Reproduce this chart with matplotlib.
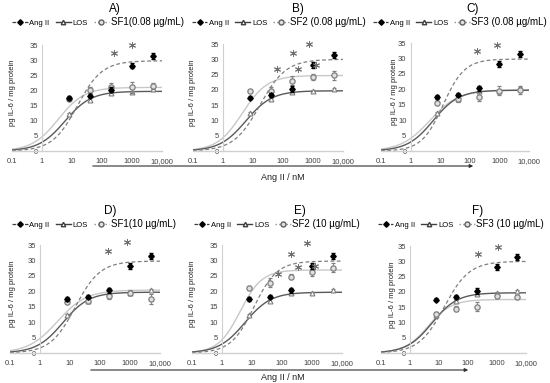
import numpy as np
import matplotlib
matplotlib.use('Agg')
import matplotlib.pyplot as plt
from matplotlib.lines import Line2D
from matplotlib.ticker import FixedLocator, FixedFormatter, NullLocator

plt.rcParams['font.family'] = ['Liberation Sans', 'DejaVu Sans']

# Ang II concentration (nM)
conc = [8, 40, 200, 1000, 5000]

ang_mean = [17.5, 18.3, 20.3, 28.2, 31.5]
ang_err = [0.5, 0.6, 0.9, 0.9, 1.0]
los_mean = [12.3, 17.0, 19.3, 19.6, 20.4]
los_err = [0.4, 0.5, 0.4, 0.3, 0.3]

titles = ['A)', 'B)', 'C)', 'D)', 'E)', 'F)']
sf_labels = ['SF1(0.08 µg/mL)', 'SF2 (0.08 µg/mL)', 'SF3 (0.08 µg/mL)',
             'SF1(10 µg/mL)', 'SF2 (10 µg/mL)', 'SF3 (10 µg/mL)']

sf1_low = [17.3, 20.0, 21.0, 21.0, 21.5]
sf1_low_err = [0.5, 1.0, 1.5, 1.8, 1.0]
sf2_low = [19.6, 19.5, 23.0, 24.3, 24.8]
sf2_low_err = [0.4, 1.5, 1.5, 1.0, 1.5]
sf3_low = [15.5, 17.0, 17.6, 19.5, 19.8]
sf3_low_err = [0.4, 1.0, 1.5, 1.5, 1.3]
sf1_high = [16.4, 16.9, 18.6, 19.5, 17.5]
sf1_high_err = [0.4, 0.8, 1.0, 0.8, 1.5]
sf2_high = [21.2, 22.8, 24.7, 26.1, 27.6]
sf2_high_err = [0.4, 1.5, 0.8, 1.0, 1.5]
sf3_high = [12.8, 14.5, 15.2, 18.8, 18.4]
sf3_high_err = [0.5, 0.8, 1.5, 0.8, 0.5]

sf_means = [sf1_low, sf2_low, sf3_low, sf1_high, sf2_high, sf3_high]
sf_errs = [sf1_low_err, sf2_low_err, sf3_low_err, sf1_high_err, sf2_high_err, sf3_high_err]

# significance asterisks (x in nM, y)
star_x = [[250, 1000], [62, 220, 320, 740, 1230], [175, 810],
          [190, 810], [72, 200, 345, 690, 1260], [230, 1120]]
star_y = [[32.5, 35], [26.9, 32.2, 26.9, 35, 28.2], [32.3, 34.5],
          [33, 36], [25.5, 32.1, 28, 35.5, 28.2], [32.4, 34.6]]

# sigmoid fits: (top, EC50, hill slope)
ang_fit = [(29.8, 15, 1.05), (30.0, 17, 1.0), (29.8, 12.5, 1.2),
           (29.8, 15, 1.05), (29.8, 11.6, 1.13), (30.0, 15, 1.0)]
los_fit = (19.7, 5.8, 1.0)
sf_fit = [(21.0, 3.5, 1.0), (24.7, 4.4, 1.04), (19.8, 4.5, 0.9),
          (20.4, 3.8, 0.9), (26.9, 4.0, 1.2), (17.5, 4.2, 1.08)]

xticks = [0.1, 1, 10, 100, 1000, 10000]
xticklabels = ['0.1', '1', '10', '100', '1000', '10,000']
yticks = [0, 5, 10, 15, 20, 25, 30, 35]


def hill(x, top, ec50, n):
    return top / (1 + (ec50 / x) ** n)


W, H = 550, 383
fig = plt.figure(figsize=(5.5, 3.83), dpi=100)

# pixel layout: x of 0.1, x of 10000, y of 0, y of 35
px_left = [12, 193, 381, 10, 192, 381]
px_right = [162, 343, 529, 160, 342, 526]
px_y0 = [151, 151, 151, 353, 353, 353]
px_y35 = [45, 44, 43, 245, 245, 246]
title_xy = [(115, 9), (298, 9), (473, 9), (110, 211), (300, 211), (478, 211)]
legend_xy = [(98, 22), (279, 22), (460, 22), (94, 224), (277, 224), (461, 224)]
ylabel_x = [12, 193, 394, 12, 193, 393]

xs = np.logspace(-1, 4, 300)

for i in range(6):
    l, r, y0, y35 = px_left[i], px_right[i], px_y0[i], px_y35[i]
    ax = fig.add_axes([l / W, 1 - y0 / H, (r - l) / W, (y0 - y35) / H])
    ax.set_xscale('log')
    ax.set_xlim(0.1, 10000)
    ax.set_ylim(0, 35)
    ax.patch.set_alpha(0)

    ax.plot(xs, hill(xs, *sf_fit[i]), color='#c8c8c8', lw=1.0)
    ax.plot(xs, hill(xs, *los_fit), color='#595959', lw=1.0)
    ax.plot(xs, hill(xs, *ang_fit[i]), color='#7f7f7f', lw=0.9, ls=(0, (3, 2)))

    ax.errorbar(conc, los_mean, yerr=los_err, fmt='^', ms=3.5, mfc='white',
                mec='#7f7f7f', mew=0.8, ecolor='#7f7f7f', elinewidth=0.6,
                capsize=1.2, clip_on=False, zorder=4)
    ax.errorbar(conc, sf_means[i], yerr=sf_errs[i], fmt='o', ms=3.8, mfc='#e0e0e0',
                mec='#7f7f7f', mew=0.9, ecolor='#7f7f7f', elinewidth=0.6,
                capsize=1.2, clip_on=False, zorder=5)
    ax.errorbar(conc, ang_mean, yerr=ang_err, fmt='D', ms=2.8, mfc='black',
                mec='black', ecolor='black', elinewidth=0.6,
                capsize=1.2, clip_on=False, zorder=6)
    ax.plot(star_x[i], star_y[i], ls='none', marker=(6, 2, 0), ms=5,
            color='#707070', mew=0.7, clip_on=False, zorder=7)

    for s in ['top', 'right']:
        ax.spines[s].set_visible(False)
    ax.spines['left'].set_position(('data', 1))
    ax.spines['left'].set_color('#d0d0d0')
    ax.spines['bottom'].set_color('#d0d0d0')
    ax.spines['left'].set_linewidth(0.8)
    ax.spines['bottom'].set_linewidth(1.0)
    ax.xaxis.set_major_locator(FixedLocator(xticks))
    ax.xaxis.set_major_formatter(FixedFormatter(xticklabels))
    ax.xaxis.set_minor_locator(NullLocator())
    ax.set_yticks(yticks)
    ax.tick_params(length=0, labelsize=5.5, colors='#404040')
    ax.tick_params(axis='x', pad=5)
    ax.tick_params(axis='y', pad=3)

    handles = [
        Line2D([], [], color='#404040', ls=(0, (3, 2)), lw=0.9, marker='D', ms=2.8,
               mfc='black', mec='black'),
        Line2D([], [], color='#404040', lw=1.0, marker='^', ms=3.2,
               mfc='white', mec='#404040'),
        Line2D([], [], color='#909090', ls=':', lw=1.0, marker='o', ms=3.6,
               mfc='#e0e0e0', mec='#606060'),
    ]
    leg = ax.legend(handles, ['Ang II', 'LOS', sf_labels[i]], loc='center',
                    bbox_to_anchor=(legend_xy[i][0] / W, 1 - legend_xy[i][1] / H),
                    bbox_transform=fig.transFigure, ncol=3, frameon=False,
                    fontsize=5.5, handlelength=2.0, handletextpad=0.2,
                    columnspacing=0.8, borderpad=0)
    leg.get_texts()[2].set_fontsize(7)

    fig.text(title_xy[i][0] / W, 1 - title_xy[i][1] / H, titles[i],
             ha='center', va='center', fontsize=8.5)
    fig.text(ylabel_x[i] / W, 1 - ((y0 + y35) / 2 - 5) / H, 'pg IL-6 / mg protein',
             rotation=90, ha='center', va='center', fontsize=5.5, color='#202020')

# Ang II arrows under each row
for ya, yl, x0, x1 in [(166, 177, 90, 476), (370, 378, 88, 471)]:
    fig.add_artist(matplotlib.patches.FancyArrowPatch(
        (x0 / W, 1 - ya / H), (x1 / W, 1 - ya / H), transform=fig.transFigure,
        arrowstyle='-|>', mutation_scale=5, color='#303030', lw=0.8))
    fig.text(283 / W, 1 - yl / H, 'Ang II / nM', ha='center', va='center',
             fontsize=6.5, color='#202020')

fig.savefig('out.png', dpi=100)
